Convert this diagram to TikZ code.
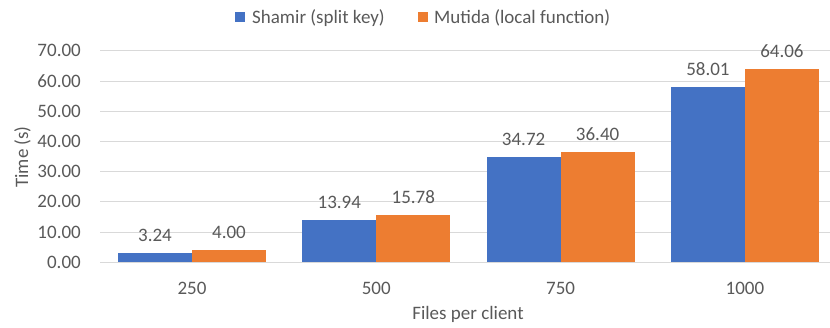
\documentclass[tikz,border=0pt]{standalone}
\usepackage{fontspec}
\setmainfont{Carlito}
\definecolor{barblue}{HTML}{4472C4}
\definecolor{barorange}{HTML}{ED7D31}
\definecolor{gridgray}{HTML}{D9D9D9}
\definecolor{txtgray}{HTML}{595959}
\begin{document}
\begin{tikzpicture}[x=1pt,y=1pt,
  lbl/.style={inner sep=0pt,text=txtgray,font=\fontsize{19}{22}\selectfont},
  gridln/.style={draw=gridgray,line width=1pt},
  bluebar/.style={fill=barblue,draw=none},
  orangebar/.style={fill=barorange,draw=none}]
\useasboundingbox (0,0) rectangle (830,328);
% gridlines and tick labels
\foreach \v [count=\i] in {0,10,...,70}{
  \pgfmathsetmacro{\yy}{65.7+3.02*\v}
  \coordinate (gl\i) at (100,\yy);
  \coordinate (gr\i) at (830,\yy);
  \draw[gridln] (gl\i) -- (gr\i);
  \node[lbl,anchor=base east] (t\i) at (81,\yy-6) {\v.00};
}
% bars
\foreach \a/\b/\la/\lb/\cat [count=\i] in {3.24/4.00/3.24/4.00/250,13.94/15.78/13.94/15.78/500,34.72/36.40/34.72/36.40/750,58.01/64.06/58.01/64.06/1000}{
  \pgfmathsetmacro{\cx}{192+184.3*(\i-1)}
  \pgfmathsetmacro{\ya}{65.7+3.02*\a}
  \pgfmathsetmacro{\yb}{65.7+3.02*\b}
  \fill[bluebar] (\cx-74,65.7) rectangle (\cx,\ya);
  \fill[orangebar] (\cx,65.7) rectangle (\cx+74,\yb);
  \node[lbl,anchor=base] (la\i) at (\cx-37,\ya+11.5) {\la};
  \node[lbl,anchor=base] (lb\i) at (\cx+37,\yb+11.5) {\lb};
  \node[lbl,anchor=base] (c\i) at (\cx,33) {\cat};
}
% axis titles
\node[lbl,anchor=base] (xt) at (468,8) {Files per client};
\node[lbl,anchor=base,rotate=90] (yt) at (28,171) {Time (s)};
% legend
\fill[barblue] (235,306) rectangle (245,316);
\node[lbl,anchor=base west] (leg1) at (252,304) {Shamir (split key)};
\fill[barorange] (418,306) rectangle (428,316);
\node[lbl,anchor=base west] (leg2) at (434,304) {Mutida (local function)};
\end{tikzpicture}
\end{document}
